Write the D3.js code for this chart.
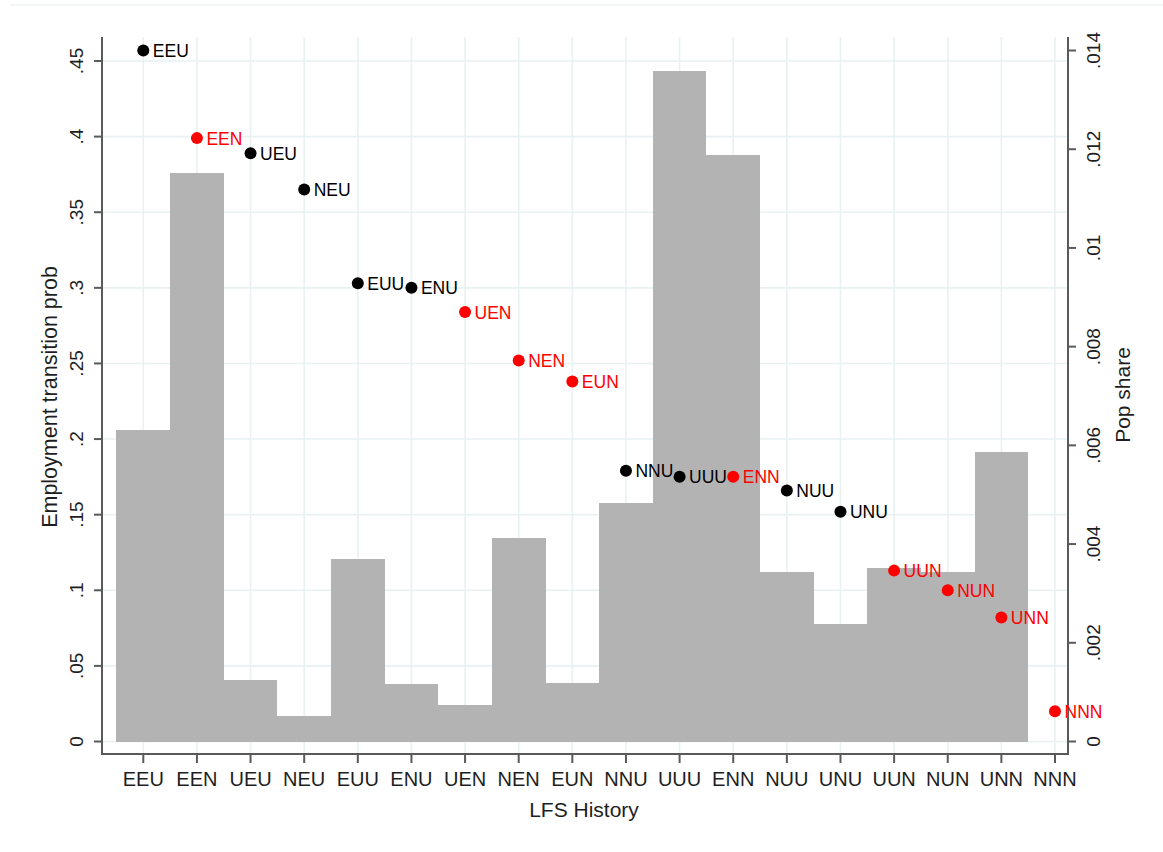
<!DOCTYPE html>
<html>
<head>
<meta charset="utf-8">
<script src="https://cdn.jsdelivr.net/npm/d3@7"></script>
<style>
  html, body { margin: 0; padding: 0; background: #fff; }
  svg { display: block; font-family: "Liberation Sans", Arial, Helvetica, sans-serif; }
</style>
</head>
<body>
<svg id="chart" width="1163" height="852"></svg>
<script>
// LFS history categories, in plotted order
const histories = ["EEU","EEN","UEU","NEU","EUU","ENU","UEN","NEN","EUN",
                   "NNU","UUU","ENN","NUU","UNU","UUN","NUN","UNN","NNN"];

// Employment transition probability (left axis, points)
const transitionProb = [0.457, 0.399, 0.389, 0.365, 0.303, 0.300, 0.284, 0.252, 0.238,
                        0.179, 0.175, 0.175, 0.166, 0.152, 0.113, 0.100, 0.082, 0.020];

// Population share (right axis, bars)
const popShare = [0.00632, 0.01151, 0.00125, 0.00052, 0.00369, 0.00117, 0.00073, 0.00413, 0.00118,
                  0.00483, 0.01359, 0.01188, 0.00343, 0.00238, 0.00351, 0.00343, 0.00587, 0];

const leftTicks = [0, 0.05, 0.1, 0.15, 0.2, 0.25, 0.3, 0.35, 0.4, 0.45];
const leftTickLabels = ["0", ".05", ".1", ".15", ".2", ".25", ".3", ".35", ".4", ".45"];
const rightTicks = [0, 0.002, 0.004, 0.006, 0.008, 0.01, 0.012, 0.014];
const rightTickLabels = ["0", ".002", ".004", ".006", ".008", ".01", ".012", ".014"];

const svg = d3.select("#chart");

const axisLeftX = 102, axisRightX = 1068, axisTop = 37, axisBottom = 754;
const zeroY = 741.5;

const x = d3.scaleLinear().domain([0, histories.length - 1]).range([143.3, 1055]);
const yL = d3.scaleLinear().domain([0, 0.45]).range([zeroY, 61]);
const yR = d3.scaleLinear().domain([0, 0.014]).range([zeroY, 50.5]);

const gridColor = "#e9f1f2";
const axisColor = "#5a5a5a";
const textColor = "#1e1e1e";

// faint frame line along the top of the graph region
svg.append("line").attr("x1", 10).attr("x2", 1163).attr("y1", 5).attr("y2", 5)
  .attr("stroke", "#eef3f3").attr("stroke-width", 1.5);

// grid
const grid = svg.append("g");
grid.selectAll("line.h").data(leftTicks).join("line")
  .attr("x1", axisLeftX).attr("x2", axisRightX)
  .attr("y1", d => yL(d)).attr("y2", d => yL(d))
  .attr("stroke", gridColor).attr("stroke-width", 1.6);
grid.selectAll("line.v").data(histories).join("line")
  .attr("x1", (d, i) => x(i)).attr("x2", (d, i) => x(i))
  .attr("y1", axisTop).attr("y2", axisBottom)
  .attr("stroke", gridColor).attr("stroke-width", 1.6);

// population share bars (contiguous, one category wide)
svg.append("g").selectAll("rect").data(popShare).join("rect")
  .attr("x", (d, i) => x(i - 0.5))
  .attr("width", (d, i) => x(i + 0.5) - x(i - 0.5))
  .attr("y", d => yR(d))
  .attr("height", d => zeroY - yR(d))
  .attr("fill", "#b3b3b3")
  .attr("shape-rendering", "crispEdges");

// axes
const axes = svg.append("g").attr("stroke", axisColor).attr("stroke-width", 2);
axes.append("line").attr("x1", axisLeftX).attr("x2", axisLeftX).attr("y1", axisTop).attr("y2", axisBottom + 1);
axes.append("line").attr("x1", axisRightX).attr("x2", axisRightX).attr("y1", axisTop).attr("y2", axisBottom + 1);
axes.append("line").attr("x1", axisLeftX - 1).attr("x2", axisRightX + 1).attr("y1", axisBottom).attr("y2", axisBottom);

// left ticks & labels
axes.selectAll("line.lt").data(leftTicks).join("line")
  .attr("x1", axisLeftX - 8).attr("x2", axisLeftX)
  .attr("y1", d => yL(d)).attr("y2", d => yL(d));
svg.append("g").selectAll("text").data(leftTicks).join("text")
  .attr("transform", d => `translate(83,${yL(d)}) rotate(-90)`)
  .attr("text-anchor", "middle")
  .attr("font-size", 19).attr("fill", textColor)
  .text((d, i) => leftTickLabels[i]);

// right ticks & labels
axes.selectAll("line.rt").data(rightTicks).join("line")
  .attr("x1", axisRightX).attr("x2", axisRightX + 8)
  .attr("y1", d => yR(d)).attr("y2", d => yR(d));
svg.append("g").selectAll("text").data(rightTicks).join("text")
  .attr("transform", d => `translate(1100,${yR(d)}) rotate(-90)`)
  .attr("text-anchor", "middle")
  .attr("font-size", 19).attr("fill", textColor)
  .text((d, i) => rightTickLabels[i]);

// bottom ticks & labels
axes.selectAll("line.bt").data(histories).join("line")
  .attr("x1", (d, i) => x(i)).attr("x2", (d, i) => x(i))
  .attr("y1", axisBottom).attr("y2", axisBottom + 9);
svg.append("g").selectAll("text").data(histories).join("text")
  .attr("x", (d, i) => x(i)).attr("y", 786)
  .attr("text-anchor", "middle")
  .attr("font-size", 20).attr("fill", textColor)
  .text(d => d);

// axis titles
svg.append("text")
  .attr("transform", "translate(57,397) rotate(-90)")
  .attr("text-anchor", "middle").attr("font-size", 21.5).attr("fill", textColor)
  .text("Employment transition prob");
svg.append("text")
  .attr("transform", "translate(1130,395) rotate(-90)")
  .attr("text-anchor", "middle").attr("font-size", 21).attr("fill", textColor)
  .text("Pop share");
svg.append("text")
  .attr("x", 584).attr("y", 817)
  .attr("text-anchor", "middle").attr("font-size", 21).attr("fill", textColor)
  .text("LFS History");

// transition probability points, black when the history ends in U, red when it ends in N
const colorOf = h => h.endsWith("N") ? "#ff0000" : "#000000";
const pts = svg.append("g").selectAll("g").data(histories).join("g");
pts.append("circle")
  .attr("cx", (d, i) => x(i)).attr("cy", (d, i) => yL(transitionProb[i]))
  .attr("r", 6).attr("fill", colorOf);
pts.append("text")
  .attr("x", (d, i) => x(i) + 9.5).attr("y", (d, i) => yL(transitionProb[i]) + 6.5)
  .attr("font-size", 17.5).attr("fill", colorOf)
  .text(d => d);
</script>
</body>
</html>
